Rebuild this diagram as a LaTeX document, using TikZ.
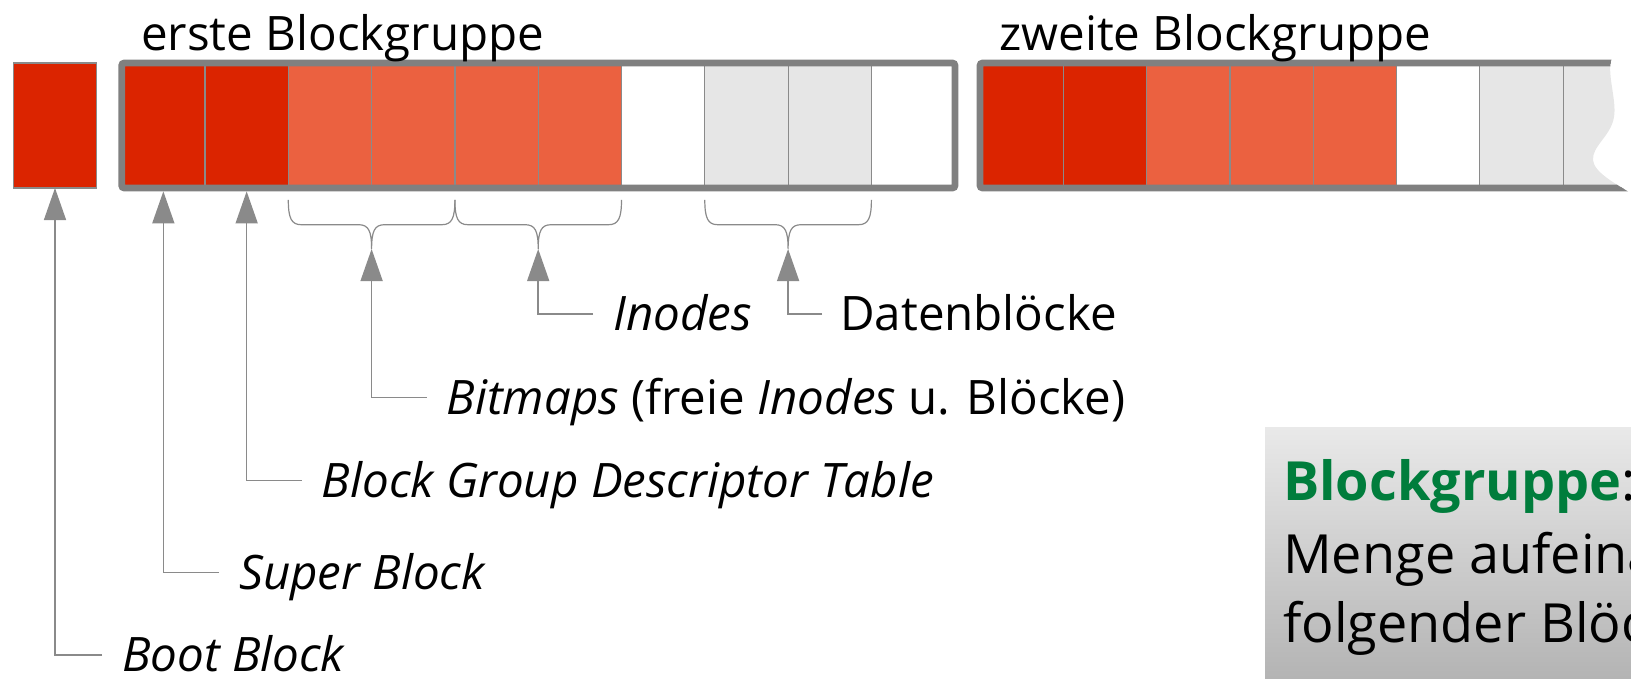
\documentclass[tikz,border=0pt]{standalone}
\usepackage{fontspec}
\setmainfont{Open Sans}
\usetikzlibrary{arrows.meta}
\definecolor{dred}{HTML}{DB2400}
\definecolor{orng}{HTML}{EB6140}
\definecolor{lgray}{HTML}{E6E6E6}
\definecolor{frm}{HTML}{808080}
\definecolor{ln}{HTML}{8A8A8A}
\definecolor{grn}{HTML}{007D3C}
\definecolor{boxtop}{HTML}{E9E9E9}
\definecolor{boxbot}{HTML}{ABABAB}
\tikzset{
  cell/.style={draw=ln, line width=1.2pt, minimum width=83.3pt, minimum height=125pt, inner sep=0pt, outer sep=0pt},
  frame/.style={draw=frm, line width=6.7pt, rounded corners=2.5pt, inner sep=0pt, minimum height=125pt},
  arr/.style={draw=ln, line width=1.5pt, -{Triangle[length=32pt,width=22pt]}},
  brace/.style={draw=ln, line width=1.2pt},
  lbl/.style={anchor=west, inner xsep=20pt, inner ysep=0pt, text height=33.5pt, text depth=0pt, font=\fontsize{47.5}{56}\selectfont\itshape},
  lblu/.style={lbl, font=\fontsize{47.5}{56}\selectfont},
  head/.style={anchor=base west, inner sep=0pt, font=\fontsize{47.5}{56}\selectfont},
  boxtxt/.style={anchor=base west, inner sep=0pt, font=\fontsize{54}{71}\selectfont}
}
\newcommand{\mybrace}[3]{%
  \pgfmathsetmacro\bxa{#1}\pgfmathsetmacro\bxb{#2}\pgfmathsetmacro\bxm{(#1+#2)/2}%
  \draw[brace] (\bxa,199.8) .. controls (\bxa,218) and (\bxa+3,224.7) .. (\bxa+13,224.7) -- (\bxm-13,224.7)
    .. controls (\bxm-3,224.7) and (\bxm,231) .. (\bxm,249)
    .. controls (\bxm,231) and (\bxm+3,224.7) .. (\bxm+13,224.7) -- (\bxb-13,224.7)
    .. controls (\bxb-3,224.7) and (\bxb,218) .. (\bxb,199.8);
  \coordinate (#3) at (\bxm,249);}
\begin{document}
\begin{tikzpicture}[x=1pt,y=-1pt]
\useasboundingbox (0,0) rectangle (1631,678);
\clip (0,0) rectangle (1631,678);
% info box
\path[top color=boxtop, bottom color=boxbot] (1265,427.5) rectangle (1700,720);
\node[boxtxt] (bx1) at (1283,500) {\textcolor{grn}{\bfseries Blockgruppe}:};
\node[boxtxt] (bx2) at (1283,573) {Menge aufeinander-};
\node[boxtxt] (bx3) at (1283,642) {folgender Blöcke};
% boot block
\node[cell, fill=dred] (boot) at (55,125.5) {};
% first group
\foreach \col [count=\i] in {dred,dred,orng,orng,orng,orng,white,lgray,lgray,white} {
  \node[cell, fill=\col] (c\i) at ({121.7+83.3*(\i-0.5)},125.5) {};
}
\node[frame, minimum width=833.3pt] (g1) at (538.35,125.5) {};
% second group
\begin{scope}
\clip (970,40) -- (1612,40) -- (1612,58) .. controls (1606,72) and (1617,100) .. (1614,117)
  .. controls (1611,136) and (1592,146) .. (1593,160)
  .. controls (1594,172) and (1614,183) .. (1634,195) -- (1634,200) -- (970,200) -- cycle;
\foreach \col [count=\i] in {dred,dred,orng,orng,orng,white,lgray,lgray,lgray} {
  \node[cell, fill=\col] (d\i) at ({980+83.3*(\i-0.5)},125.5) {};
}
\node[frame, minimum width=720pt] (g2) at (1340,125.5) {};
\end{scope}
% headings
\node[head] (h1) at (141,50) {erste Blockgruppe};
\node[head] (h2) at (999,50) {zweite Blockgruppe};
% braces
\mybrace{288.3}{454.9}{b1}
\mybrace{454.9}{621.5}{b2}
\mybrace{704.8}{871.4}{b3}
% labels
\node[lbl] (bootL) at (102,655) {Boot Block};
\node[lbl] (superL) at (219,572.3) {Super Block};
\node[lbl] (bgdtL) at (301.7,480.6) {Block Group Descriptor Table};
\node[lblu] (bmL) at (426.5,397.4) {\textit{Bitmaps} (freie \textit{Inodes} u. Blöcke)};
\node[lbl] (inL) at (593,314) {Inodes};
\node[lblu, inner xsep=18pt] (dbL) at (822,314) {Datenblöcke};
% arrows
\draw[arr] (bootL.west) -| (boot.south);
\draw[arr] (superL.west) -| (c1.south |- g1.south);
\draw[arr] (bgdtL.west) -| (c2.south |- g1.south);
\draw[arr] (bmL.west) -| (b1);
\draw[arr] (inL.west) -| (b2);
\draw[arr] (dbL.west) -| (b3);
\end{tikzpicture}
\end{document}
